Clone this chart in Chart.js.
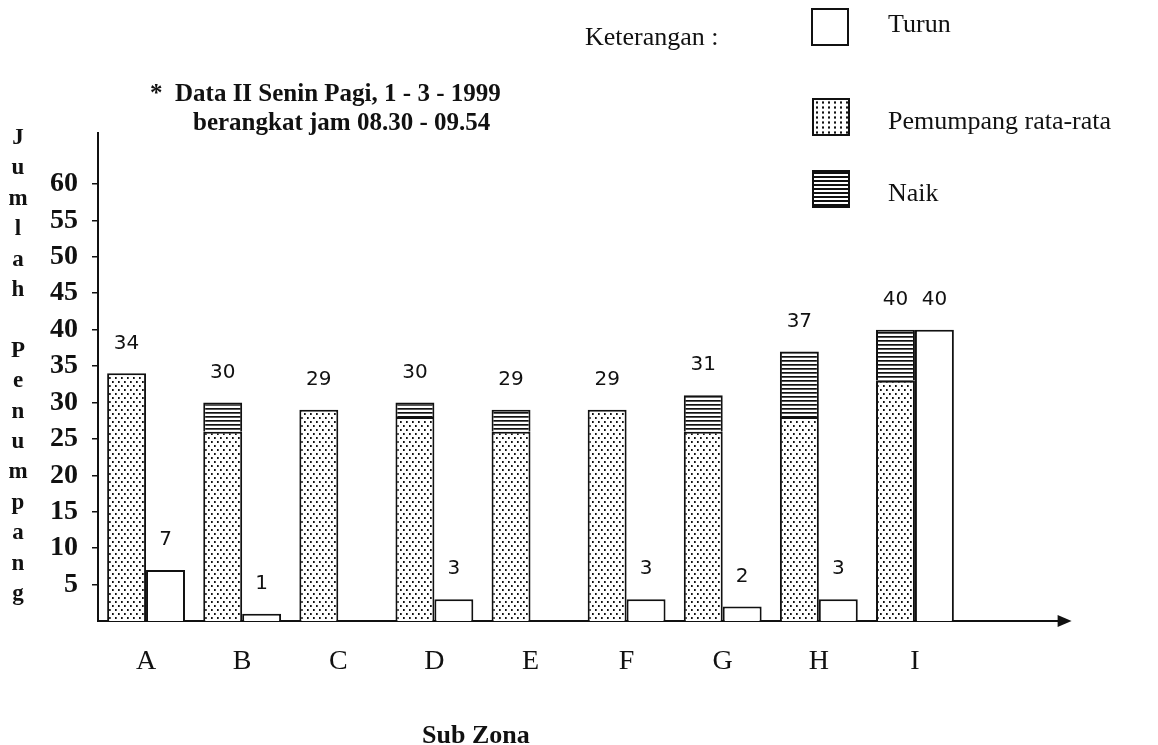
<!DOCTYPE html>
<html>
<head>
<meta charset="utf-8">
<script src="https://cdn.jsdelivr.net/npm/chart.js@4"></script>
<style>
  html, body { margin: 0; padding: 0; background: #fff; }
  #wrap { position: relative; width: 1158px; height: 745px; overflow: hidden; }
  #chart { position: absolute; left: 0; top: 0; }
  .txt { position: absolute; font-family: "Liberation Serif", serif; color: #111; white-space: nowrap; }
  .sw { position: absolute; width: 38px; height: 38px; border: 2px solid #111; box-sizing: border-box; }
  .dots { background-color: #fff;
    background-image: radial-gradient(circle, #111 1px, transparent 1.3px);
    background-size: 6px 5px; }
  .lines { background: repeating-linear-gradient(to bottom, #111 0, #111 1.6px, #fff 1.6px, #fff 4px); }
</style>
</head>
<body>
<div id="wrap">
  <canvas id="chart" width="1158" height="745"></canvas>

  <div class="txt" style="left:585px; top:22px; font-size:26px;">Keterangan :</div>
  <div class="sw" style="left:811px; top:8px;"></div>
  <div class="txt" style="left:888px; top:9px; font-size:26px;">Turun</div>
  <div class="sw dots" style="left:812px; top:98px;"></div>
  <div class="txt" style="left:888px; top:106px; font-size:26px;">Pemumpang rata-rata</div>
  <div class="sw lines" style="left:812px; top:170px;"></div>
  <div class="txt" style="left:888px; top:178px; font-size:26px;">Naik</div>

  <div class="txt" style="left:150px; top:79px; font-size:25px; font-weight:bold;">*&nbsp;&nbsp;Data II Senin Pagi, 1 - 3 - 1999</div>
  <div class="txt" style="left:193px; top:108px; font-size:25px; font-weight:bold;">berangkat jam 08.30 - 09.54</div>

  <div class="txt" style="left:0px; top:122px; width:36px; text-align:center; font-size:23px; font-weight:bold; line-height:30.4px;">J<br>u<br>m<br>l<br>a<br>h<br>&nbsp;<br>P<br>e<br>n<br>u<br>m<br>p<br>a<br>n<br>g</div>

  <div class="txt" style="left:422px; top:720px; font-size:26px; font-weight:bold;">Sub Zona</div>
</div>

<script>
// Sub zona dan jumlah penumpang
const zones = ['A', 'B', 'C', 'D', 'E', 'F', 'G', 'H', 'I'];
const pemumpang = [34, 26, 29, 28, 26, 29, 26, 28, 33];
const naik = [null, 4, null, 2, 3, null, 5, 9, 7];
const turun = [7, 1, null, 3, null, 3, 2, 3, 40];
const yTicks = [5, 10, 15, 20, 25, 30, 35, 40, 45, 50, 55, 60];

// Fill patterns
function makePattern(draw, w, h) {
    const c = document.createElement('canvas');
    c.width = w;
    c.height = h;
    const g = c.getContext('2d');
    g.fillStyle = '#fff';
    g.fillRect(0, 0, w, h);
    g.fillStyle = '#111';
    draw(g);
    return g.createPattern(c, 'repeat');
}
const ctx = document.getElementById('chart').getContext('2d');
const dotFill = makePattern(g => {
    g.fillRect(1, 1, 1.7, 2);
    g.fillRect(4, 5, 1.7, 2);
}, 6, 8);
const lineFill = makePattern(g => {
    g.fillRect(0, 0, 4, 1.7);
}, 4, 4);

// Value labels above the bars
const valueLabels = {
    id: 'valueLabels',
    afterDatasetsDraw(chart) {
        const c = chart.ctx;
        const mP = chart.getDatasetMeta(0);
        const mN = chart.getDatasetMeta(1);
        const mT = chart.getDatasetMeta(2);
        c.save();
        c.font = '20px "DejaVu Sans", sans-serif';
        c.fillStyle = '#111';
        c.textAlign = 'center';
        c.textBaseline = 'middle';
        zones.forEach((z, i) => {
            const top = naik[i] ? mN.data[i] : mP.data[i];
            const total = pemumpang[i] + (naik[i] || 0);
            c.fillText(total, top.x, top.y - 30);
            if (turun[i]) {
                const t = mT.data[i];
                c.fillText(turun[i], t.x, t.y - 30);
            }
        });
        c.restore();
    }
};

// x axis runs past the last bar and ends in an arrow
const axisArrow = {
    id: 'axisArrow',
    afterDraw(chart) {
        const c = chart.ctx;
        const a = chart.chartArea;
        const ext = (a.right - a.left) / zones.length * 1.13;
        const end = a.right + ext;
        c.save();
        c.strokeStyle = '#111';
        c.fillStyle = '#111';
        c.lineWidth = 2;
        c.beginPath();
        c.moveTo(a.right - 1, a.bottom);
        c.lineTo(end - 10, a.bottom);
        c.stroke();
        c.beginPath();
        c.moveTo(end, a.bottom);
        c.lineTo(end - 14, a.bottom - 6);
        c.lineTo(end - 14, a.bottom + 6);
        c.closePath();
        c.fill();
        c.restore();
    }
};

new Chart(ctx, {
    type: 'bar',
    data: {
        labels: zones,
        datasets: [
            {
                label: 'Pemumpang rata-rata',
                data: pemumpang,
                backgroundColor: dotFill,
                borderColor: '#111',
                borderWidth: 2,
                stack: 'naik'
            },
            {
                label: 'Naik',
                data: naik,
                backgroundColor: lineFill,
                borderColor: '#111',
                borderWidth: 2,
                stack: 'naik'
            },
            {
                label: 'Turun',
                data: turun,
                backgroundColor: '#fff',
                borderColor: '#111',
                borderWidth: 2,
                stack: 'turun'
            }
        ]
    },
    options: {
        responsive: false,
        animation: false,
        categoryPercentage: 0.81,
        barPercentage: 1,
        layout: {
            padding: { left: 38, top: 133, right: 195, bottom: 64 }
        },
        plugins: {
            legend: { display: false },
            tooltip: { enabled: false }
        },
        scales: {
            x: {
                stacked: true,
                grid: { display: true, drawOnChartArea: false, drawTicks: false },
                border: { color: '#111', width: 2 },
                ticks: {
                    padding: 24,
                    color: '#111',
                    font: { family: '"Liberation Serif", serif', size: 28 }
                },
                afterFit(scale) { scale.height = 60; }
            },
            y: {
                stacked: true,
                min: 0,
                max: 67,
                afterBuildTicks(scale) {
                    scale.ticks = yTicks.map(v => ({ value: v }));
                },
                grid: { drawOnChartArea: false, tickLength: 6, color: '#111', lineWidth: 1.5 },
                border: { color: '#111', width: 2 },
                ticks: {
                    padding: 14,
                    color: '#111',
                    font: { family: '"Liberation Serif", serif', size: 28, weight: 'bold' }
                },
                afterFit(scale) { scale.width = 60; }
            }
        }
    },
    plugins: [valueLabels, axisArrow]
});
</script>
</body>
</html>
